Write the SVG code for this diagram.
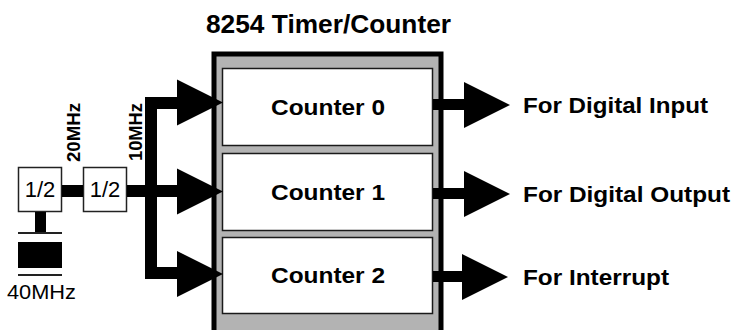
<svg xmlns="http://www.w3.org/2000/svg" width="731" height="330" viewBox="0 0 731 330">
<style>
  .bold { font-family: "Liberation Sans", Arial, sans-serif; font-weight: bold; fill: #000; }
  .reg { font-family: "Liberation Sans", Arial, sans-serif; fill: #000; }
  .cnt { fill: #fff; stroke: #1a1a1a; stroke-width: 1.5; }
  .div { fill: #fff; stroke: #222; stroke-width: 1.5; }
  .wire { fill: none; stroke: #000; stroke-width: 12; stroke-linejoin: miter; }
  .owire { fill: none; stroke: #000; stroke-width: 11; }
</style>
<defs>
  <path id="ah" d="M0,-23 L46,0 L0,23 Z" fill="#000"/>
</defs>
<rect width="731" height="330" fill="#fff"/>

<text class="bold" x="206" y="33" font-size="26" textLength="245" lengthAdjust="spacingAndGlyphs">8254 Timer/Counter</text>

<g id="timer">
  <rect x="214" y="54" width="227" height="282" fill="#b3b3b3" stroke="#000" stroke-width="5"/>
</g>
<g id="counter0">
  <rect class="cnt" x="222.5" y="68.5" width="210" height="77"/>
  <text class="bold" x="271" y="115" font-size="22" textLength="114" lengthAdjust="spacingAndGlyphs">Counter 0</text>
</g>
<g id="counter1">
  <rect class="cnt" x="222.5" y="153.5" width="210" height="77"/>
  <text class="bold" x="271" y="200" font-size="22" textLength="114" lengthAdjust="spacingAndGlyphs">Counter 1</text>
</g>
<g id="counter2">
  <rect class="cnt" x="222.5" y="237.5" width="210" height="76"/>
  <text class="bold" x="271" y="283" font-size="22" textLength="114" lengthAdjust="spacingAndGlyphs">Counter 2</text>
</g>

<g id="div1">
  <rect class="div" x="18.5" y="167.5" width="43" height="44"/>
  <text class="reg" x="40" y="197" font-size="22" text-anchor="middle">1/2</text>
</g>
<g id="div2">
  <rect class="div" x="83.5" y="167.5" width="43" height="44"/>
  <text class="reg" x="105" y="197" font-size="22" text-anchor="middle">1/2</text>
</g>

<g id="crystal">
  <rect x="35" y="212" width="11" height="21" fill="#000"/>
  <rect x="18" y="232" width="44" height="2" fill="#222"/>
  <rect x="18" y="242" width="44" height="26" fill="#000"/>
  <rect x="18" y="274" width="44" height="2" fill="#222"/>
  <text class="reg" x="7" y="299" font-size="20" textLength="69" lengthAdjust="spacingAndGlyphs">40MHz</text>
</g>

<g id="labels">
  <text class="bold" transform="rotate(-90 80 162)" x="80" y="162" font-size="19" textLength="59" lengthAdjust="spacingAndGlyphs">20MHz</text>
  <text class="bold" transform="rotate(-90 142 161)" x="142" y="161" font-size="19" textLength="58" lengthAdjust="spacingAndGlyphs">10MHz</text>
  <text class="bold" x="523" y="113" font-size="22" textLength="185" lengthAdjust="spacingAndGlyphs">For Digital Input</text>
  <text class="bold" x="523" y="202" font-size="22" textLength="207" lengthAdjust="spacingAndGlyphs">For Digital Output</text>
  <text class="bold" x="523" y="285" font-size="22" textLength="146" lengthAdjust="spacingAndGlyphs">For Interrupt</text>
</g>

<g id="connectors">
  <path class="wire" d="M62,191 H83"/>
  <path class="wire" d="M127,191 H180"/>
  <path class="wire" d="M180,103 H151 V273 H180"/>
  <use href="#ah" transform="translate(177,102.5)"/>
  <use href="#ah" transform="translate(177,191.5)"/>
  <use href="#ah" transform="translate(177,274)"/>
  <path class="owire" d="M433,104.5 H466"/>
  <path class="owire" d="M433,193.5 H466"/>
  <path class="owire" d="M433,276.5 H466"/>
  <use href="#ah" transform="translate(464,105)"/>
  <use href="#ah" transform="translate(464,194)"/>
  <use href="#ah" transform="translate(462,277)"/>
</g>
</svg>
